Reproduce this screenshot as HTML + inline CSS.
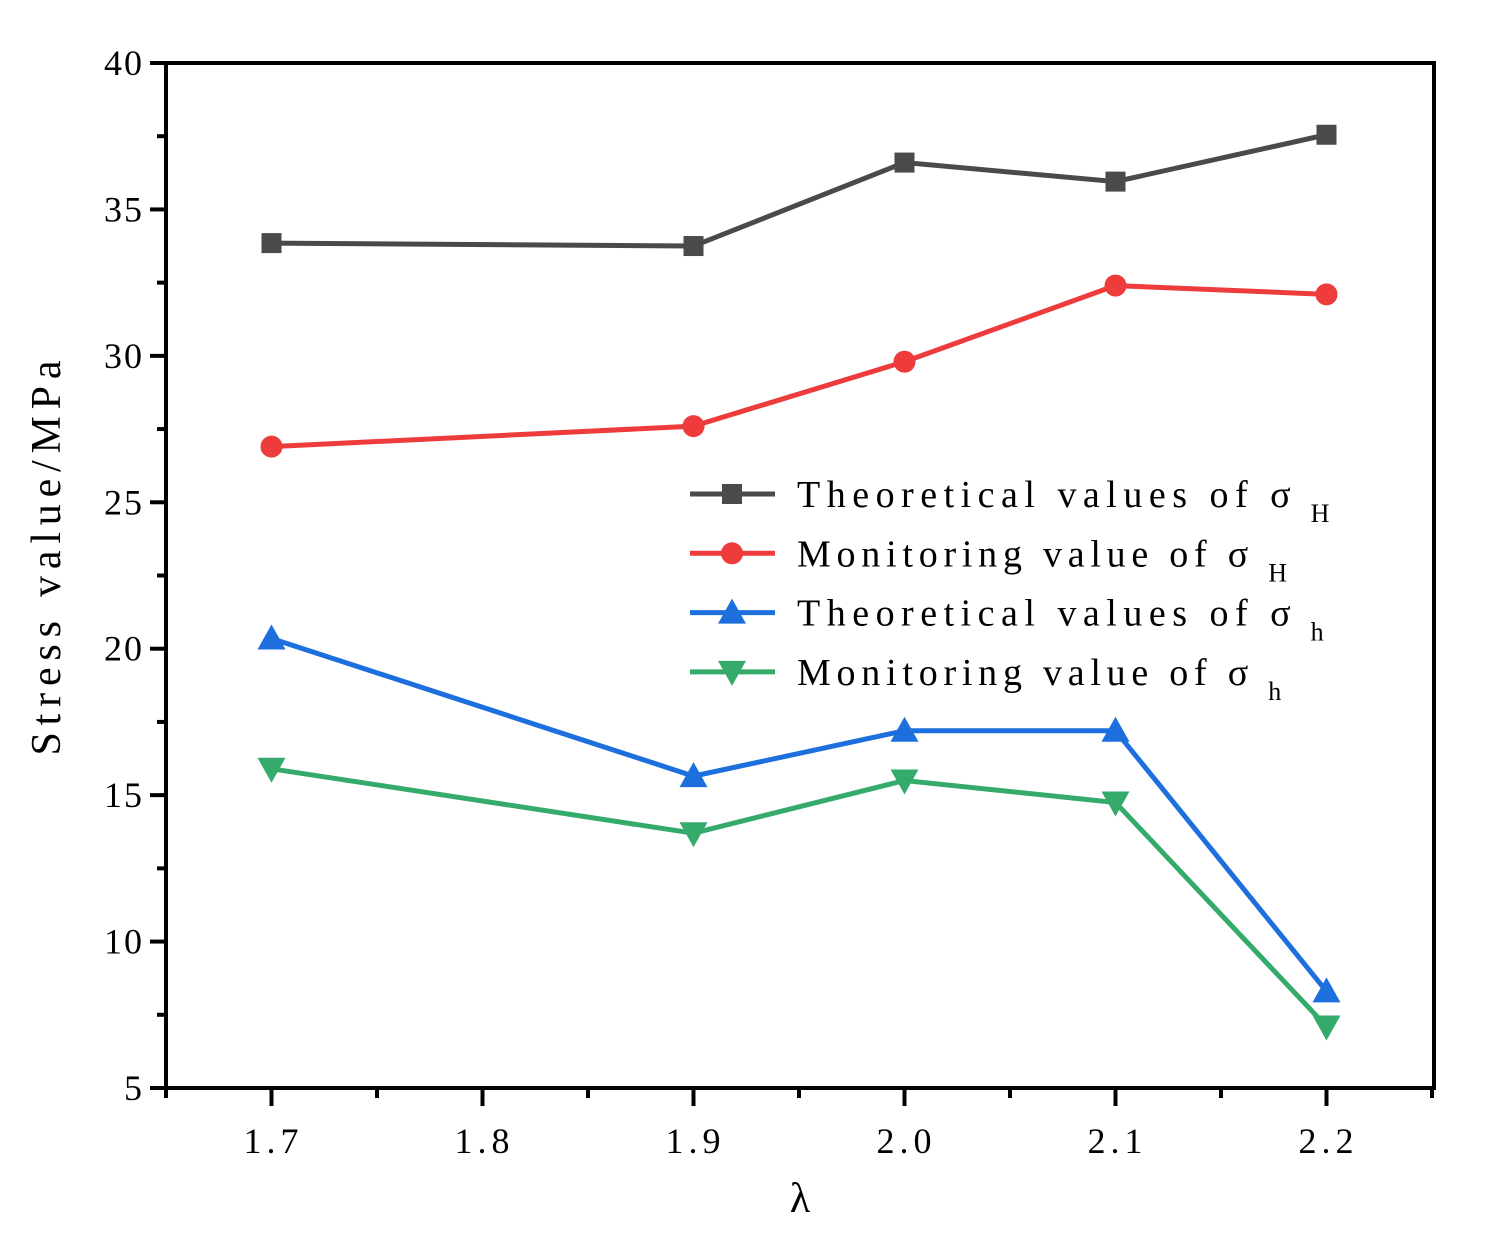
<!DOCTYPE html>
<html><head><meta charset="utf-8"><style>
html,body{margin:0;padding:0;background:#fff}
svg text{font-family:"Liberation Serif","Noto Serif CJK SC",serif;fill:#000}
</style></head><body>
<svg id="c" width="1485" height="1244" xmlns="http://www.w3.org/2000/svg"></svg>
<script>
const xVals=[1.7,1.9,2.0,2.1,2.2];
const theoH=[33.85,33.75,36.6,35.95,37.55];
const monH=[26.9,27.6,29.8,32.4,32.1];
const theoh=[20.35,15.65,17.2,17.2,8.3];
const monh=[15.9,13.7,15.5,14.75,7.1];
const xTicks=[1.7,1.8,1.9,2.0,2.1,2.2];
const xTickLabels=["1.7","1.8","1.9","2.0","2.1","2.2"];
const yTicks=[5,10,15,20,25,30,35,40];
const L=166,R=1434,T=63,B=1088;
const X=v=>L+(v-1.65)/(0.6)*(R-2-L);
const Y=v=>B-(v-5)/35*(B-T);
const svg=document.getElementById('c');
const NS='http://www.w3.org/2000/svg';
function mk(tag,attrs,parent){const e=document.createElementNS(NS,tag);for(const k in attrs)e.setAttribute(k,attrs[k]);(parent||svg).appendChild(e);return e;}
let fr=mk('rect',{x:L,y:T,width:R-L,height:B-T,fill:'none',stroke:'#000','stroke-width':4});


for(let i=0;i<yTicks.length;i++){const v=yTicks[i];
 let t=mk('line',{x1:L-16,x2:L,y1:Y(v),y2:Y(v),stroke:'#000','stroke-width':4});
 
 
 let lb=mk('text',{x:L-22,y:Y(v)+12,'font-size':36,'text-anchor':'end','letter-spacing':'2'});lb.textContent=v;
 
 
 if(i<yTicks.length-1){let m=mk('line',{x1:L-9,x2:L,y1:Y(v+2.5),y2:Y(v+2.5),stroke:'#000','stroke-width':4});
 
 }
}
for(let i=0;i<xTicks.length;i++){const v=xTicks[i];
 let t=mk('line',{x1:X(v),x2:X(v),y1:B,y2:B+18,stroke:'#000','stroke-width':4});
 
 
 let lb=mk('text',{x:X(v)+2,y:B+65,'font-size':36,'text-anchor':'middle','letter-spacing':'5'});lb.textContent=xTickLabels[i];
 
 
}
for(let k=0;k<7;k++){const v=1.65+k*0.1;
 let m=mk('line',{x1:X(v),x2:X(v),y1:B,y2:B+10,stroke:'#000','stroke-width':4});
 
 }
let xt=mk('text',{x:800,y:1212,'font-size':42,'text-anchor':'middle'});xt.textContent='λ';


let yt=mk('text',{x:0,y:0,'font-size':42,'text-anchor':'middle',transform:'translate(60,558) rotate(-90)',textLength:395,lengthAdjust:'spacing'});yt.textContent='Stress value/MPa';


function marker(g,type,x,y,color){
 if(type==='sq')return mk('rect',{x:x-10,y:y-10,width:20,height:20,fill:color},g);
 if(type==='ci')return mk('circle',{cx:x,cy:y,r:11,fill:color},g);
 if(type==='up')return mk('polygon',{points:`${x},${y-14} ${x-14},${y+11} ${x+14},${y+11}`,fill:color},g);
 return mk('polygon',{points:`${x},${y+14} ${x-14},${y-11} ${x+14},${y-11}`,fill:color},g);
}
const series=[[theoH,'#4a4a4a','sq','theoretical-sigma-H'],[monH,'#ee3b3b','ci','monitoring-sigma-H'],[theoh,'#1c6fdc','up','theoretical-sigma-h'],[monh,'#35ab6b','dn','monitoring-sigma-h']];
series.forEach(([d,c,m,n])=>{
 const g=mk('g',{});
 
 
 let p=mk('polyline',{points:d.map((v,i)=>X(xVals[i])+','+Y(v)).join(' '),fill:'none',stroke:c,'stroke-width':5},g);
 
 
 d.forEach((v,i)=>{let e=marker(g,m,X(xVals[i]),Y(v),c);
 
 });
});
const legTexts=[['Theoretical values of σ','H'],['Monitoring value of σ','H'],['Theoretical values of σ','h'],['Monitoring value of σ','h']];
const lg=mk('g',{});


series.forEach(([d,c,m,n],i)=>{const y=494+i*59.3;
 const g=mk('g',{},lg);
 
 
 mk('line',{x1:690,x2:775,y1:y,y2:y,stroke:c,'stroke-width':5},g);
 marker(g,m,732,y,c);
 const tx=legTexts[i][0];
 let t=mk('text',{x:797,y:y+13,'font-size':38,textLength:tx.length*21.2+6,lengthAdjust:'spacing'},g);t.textContent=tx;
 let s=mk('text',{x:tx.length*21.2+797+26,y:y+28,'font-size':26},g);s.textContent=legTexts[i][1];
});
</script>
</body></html>
